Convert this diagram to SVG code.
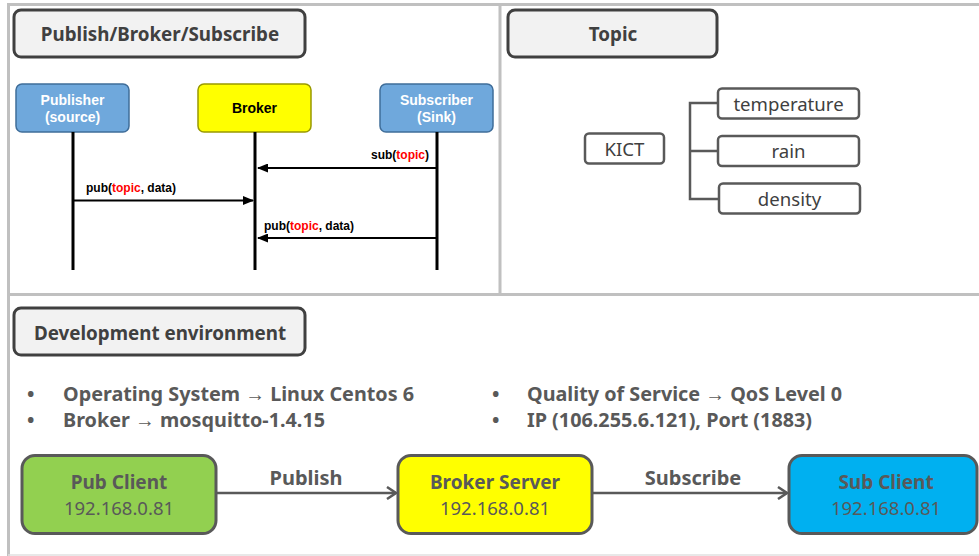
<svg xmlns="http://www.w3.org/2000/svg" width="979" height="556" viewBox="0 0 979 556">
<defs>
<style>
.frame{stroke:#c0c0c0;stroke-width:3;fill:none}
.title rect{fill:#f2f2f2;stroke:#404040;stroke-width:3}
.title text{font-family:"Noto Sans","Open Sans",sans-serif;font-weight:bold;font-size:18.8px;fill:#404040;text-anchor:middle}
.actor rect{stroke:#3f6d99;stroke-width:1.5}
.actor text{font-family:"Liberation Sans",Arial,sans-serif;font-weight:bold;font-size:14px;text-anchor:middle}
.life{stroke:#000;stroke-width:3}
.msg{stroke:#000;stroke-width:1.8;fill:none}
.mlbl{font-family:"Liberation Sans",Arial,sans-serif;font-weight:bold;font-size:12px;fill:#000}
.red{fill:#ff0000}
.tbox rect{fill:#fff;stroke:#595959;stroke-width:2.5}
.tbox text{font-family:"Noto Sans","Open Sans",sans-serif;font-size:18.6px;fill:#404040;text-anchor:middle}
.tree{stroke:#595959;stroke-width:2.5;fill:none}
.bul{font-family:"Noto Sans","Open Sans",sans-serif;font-weight:bold;font-size:19.8px;fill:#595959}
.node rect{stroke:#595959;stroke-width:3}
.node .n1{font-family:"Noto Sans","Open Sans",sans-serif;font-weight:bold;font-size:19px;fill:#595959;text-anchor:middle}
.node .n2{font-family:"Noto Sans","Open Sans",sans-serif;font-size:18.5px;fill:#595959;text-anchor:middle}
.flow{stroke:#595959;stroke-width:2.5;fill:none}
.flbl{font-family:"Noto Sans","Open Sans",sans-serif;font-weight:bold;font-size:20px;fill:#595959;text-anchor:middle}
</style>
<marker id="ah" markerWidth="11" markerHeight="9" refX="10" refY="4.5" orient="auto" markerUnits="userSpaceOnUse">
<path d="M0,0 L11,4.5 L0,9 Z" fill="#000"/>
</marker>
<marker id="open" markerWidth="12" markerHeight="14" refX="10" refY="7" orient="auto" markerUnits="userSpaceOnUse">
<path d="M1,1 L10,7 L1,13" fill="none" stroke="#595959" stroke-width="2.5"/>
</marker>
</defs>

<g id="frame">
<line class="frame" x1="8" y1="4.5" x2="979" y2="4.5"/>
<line class="frame" x1="8.5" y1="3" x2="8.5" y2="556"/>
<line class="frame" x1="8" y1="294.5" x2="979" y2="294.5"/>
<line class="frame" x1="500" y1="4" x2="500" y2="295"/>
<line x1="8" y1="555" x2="979" y2="555" stroke="#e0e0e0" stroke-width="1.5"/>
</g>

<g id="title-pbs" class="title">
<rect x="14" y="10" width="291" height="47" rx="7"/>
<text x="160" y="40.5">Publish/Broker/Subscribe</text>
</g>
<g id="title-topic" class="title">
<rect x="508" y="10" width="209" height="47" rx="7"/>
<text x="613" y="40.5">Topic</text>
</g>
<g id="title-dev" class="title">
<rect x="14" y="308" width="291" height="47" rx="7"/>
<text x="160" y="339.5">Development environment</text>
</g>

<g id="publisher" class="actor">
<rect x="16" y="84" width="113" height="48" rx="6" fill="#6fa8dc"/>
<text x="72.5" y="105" fill="#fff">Publisher</text>
<text x="72.5" y="122" fill="#fff">(source)</text>
</g>
<g id="broker" class="actor">
<rect x="198" y="84" width="113" height="48" rx="6" fill="#ffff00" style="stroke:#999900"/>
<text x="254.5" y="113" fill="#000">Broker</text>
</g>
<g id="subscriber" class="actor">
<rect x="380" y="84" width="113" height="48" rx="6" fill="#6fa8dc"/>
<text x="436.5" y="105" fill="#fff">Subscriber</text>
<text x="436.5" y="122" fill="#fff">(Sink)</text>
</g>

<g id="lifelines">
<line class="life" x1="73" y1="132" x2="73" y2="270"/>
<line class="life" x1="255" y1="132" x2="255" y2="270"/>
<line class="life" x1="437" y1="132" x2="437" y2="270"/>
</g>

<g id="connectors">
<line class="msg" x1="437" y1="168" x2="258" y2="168" marker-end="url(#ah)"/>
<line class="msg" x1="73" y1="200.5" x2="253" y2="200.5" marker-end="url(#ah)"/>
<line class="msg" x1="437" y1="238" x2="258" y2="238" marker-end="url(#ah)"/>
<path class="tree" d="M718,103 H690 V199 H718 M690,151 H718"/>
<line class="flow" x1="216" y1="493" x2="396" y2="493" marker-end="url(#open)"/>
<line class="flow" x1="592" y1="493" x2="787" y2="493" marker-end="url(#open)"/>
</g>

<g id="msg-labels">
<text class="mlbl" x="429" y="159" text-anchor="end">sub(<tspan class="red">topic</tspan>)</text>
<text class="mlbl" x="86" y="192">pub(<tspan class="red">topic</tspan>, data)</text>
<text class="mlbl" x="264" y="230">pub(<tspan class="red">topic</tspan>, data)</text>
</g>

<g id="kict" class="tbox">
<rect x="585" y="133.5" width="79" height="30" rx="4"/>
<text x="624.5" y="156">KICT</text>
</g>
<g id="temperature" class="tbox">
<rect x="718" y="88.5" width="141" height="30" rx="4"/>
<text x="788.5" y="111">temperature</text>
</g>
<g id="rain" class="tbox">
<rect x="718" y="136" width="141" height="30" rx="4"/>
<text x="788.5" y="158">rain</text>
</g>
<g id="density" class="tbox">
<rect x="719" y="183.5" width="141" height="30" rx="4"/>
<text x="789.5" y="206">density</text>
</g>

<g id="bullets">
<text class="bul" x="27" y="401">•</text>
<text class="bul" x="63" y="401">Operating System → Linux Centos 6</text>
<text class="bul" x="27" y="427">•</text>
<text class="bul" x="63" y="427">Broker → mosquitto-1.4.15</text>
<text class="bul" x="492" y="401">•</text>
<text class="bul" x="527" y="401">Quality of Service → QoS Level 0</text>
<text class="bul" x="492" y="427">•</text>
<text class="bul" x="527" y="427">IP (106.255.6.121), Port (1883)</text>
</g>

<g id="pub-client" class="node">
<rect x="22" y="455.5" width="194" height="78" rx="13" fill="#92d050"/>
<text class="n1" x="119" y="489">Pub Client</text>
<text class="n2" x="119" y="515">192.168.0.81</text>
</g>
<g id="broker-server" class="node">
<rect x="398" y="455.5" width="194" height="78" rx="13" fill="#ffff00"/>
<text class="n1" x="495" y="489">Broker Server</text>
<text class="n2" x="495" y="515">192.168.0.81</text>
</g>
<g id="sub-client" class="node">
<rect x="789" y="455.5" width="188" height="78" rx="13" fill="#00b0f0"/>
<text class="n1" x="886" y="489">Sub Client</text>
<text class="n2" x="886" y="515">192.168.0.81</text>
</g>

<g id="flow-labels">
<text class="flbl" x="306" y="485">Publish</text>
<text class="flbl" x="693" y="485">Subscribe</text>
</g>
</svg>
